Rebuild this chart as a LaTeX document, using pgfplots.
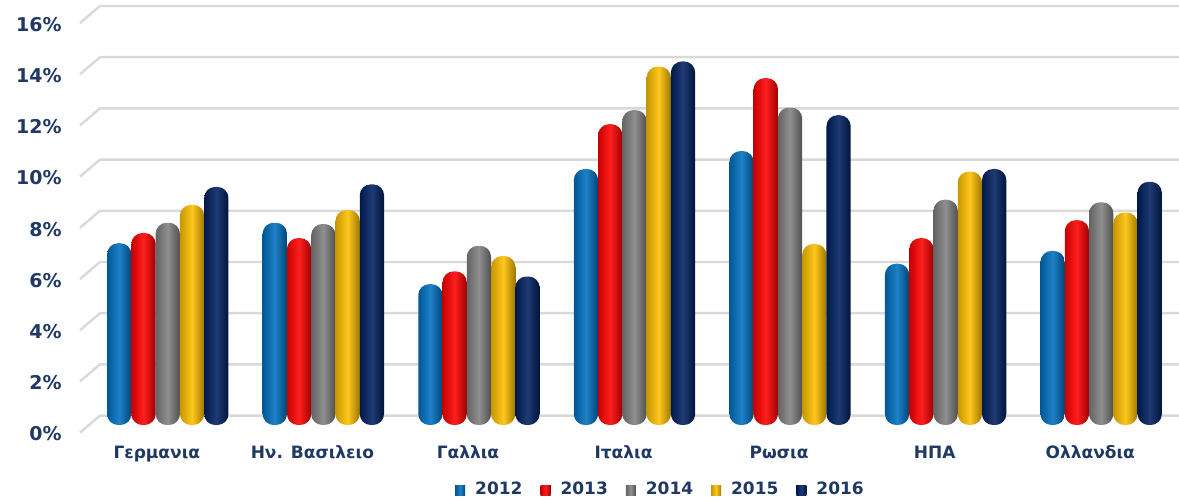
\documentclass[border=0pt]{standalone}
\usepackage{pgfplots}
\pgfplotsset{compat=1.18}
\usepackage{fontspec}
\setmainfont{DejaVu Sans}
\definecolor{txt}{HTML}{1F3864}
\definecolor{c12}{HTML}{0070C0}
\definecolor{c13}{HTML}{FF0000}
\definecolor{c14}{HTML}{808080}
\definecolor{c15}{HTML}{FFC000}
\definecolor{c16}{HTML}{002060}
\definecolor{gridc}{HTML}{D9D9D9}
\pgfplotsset{cyl/.style={draw=none, left color=#1!78!black, right color=#1!62!black, middle color=#1!88!white, rounded corners=5.5pt}}
% one bar: colour, series index (shift), category, value
\newcommand{\cb}[4]{\addplot[cyl=#1, bar shift=#2, forget plot] coordinates {(#3,#4)};}
\begin{document}
\begin{tikzpicture}
\useasboundingbox (0,0) rectangle (589.5pt,251pt);
\begin{axis}[
  at={(45pt,38.5pt)}, anchor=south west,
  width=544.5pt, height=204.8pt, scale only axis,
  xmin=-0.5, xmax=6.5, ymin=0, ymax=16,
  clip=false,
  axis line style={draw=none},
  major tick length=0pt,
  xtick={0,...,6},
  xticklabels={Γερμανια, Ην. Βασιλειο, Γαλλια, Ιταλια, Ρωσια, ΗΠΑ, Ολλανδια},
  xticklabel style={font=\bfseries\fontsize{8.5}{10}\selectfont, text=txt, anchor=base, yshift=-17pt, xshift=-5.5pt},
  ytick={0,2,...,16},
  yticklabel={\pgfmathprintnumber[assume math mode=true]{\tick}\%},
  yticklabel style={font=\bfseries\fontsize{9.5}{11}\selectfont, text=txt, anchor=east, inner sep=0pt, xshift=-14pt, yshift=-4.5pt},
  ybar=0pt, bar width=0.156,
  legend columns=5,
  legend image code/.code={\fill[#1, rounded corners=0pt] (0pt,-2.5pt) rectangle (5pt,2.5pt);},
  legend style={at={(0.335,-0.1587)}, anchor=west, draw=none, fill=none, inner sep=0pt,
    nodes={inner sep=0pt, text=txt, font=\bfseries\fontsize{8.5}{10}\selectfont},
    /tikz/every even column/.append style={column sep=9pt},
    /tikz/every odd column/.append style={column sep=5pt}},
]
\pgfplotsinvokeforeach{0,2,...,16}{
  \draw[gridc, line width=1.2pt] ([shift={(-5pt,-3.8pt)}]axis cs:-0.5,#1) -- ([shift={(5pt,4.7pt)}]axis cs:-0.5,#1) -- ([shift={(0pt,4.7pt)}]axis cs:6.5,#1);
}
% 2012
\cb{c12}{-0.312}{0}{7.1}\cb{c12}{-0.312}{1}{7.9}\cb{c12}{-0.312}{2}{5.5}\cb{c12}{-0.312}{3}{10.0}
\cb{c12}{-0.312}{4}{10.7}\cb{c12}{-0.312}{5}{6.3}\cb{c12}{-0.312}{6}{6.8}
% 2013
\cb{c13}{-0.156}{0}{7.5}\cb{c13}{-0.156}{1}{7.3}\cb{c13}{-0.156}{2}{6.0}\cb{c13}{-0.156}{3}{11.75}
\cb{c13}{-0.156}{4}{13.55}\cb{c13}{-0.156}{5}{7.3}\cb{c13}{-0.156}{6}{8.0}
% 2014
\cb{c14}{0}{0}{7.9}\cb{c14}{0}{1}{7.85}\cb{c14}{0}{2}{7.0}\cb{c14}{0}{3}{12.3}
\cb{c14}{0}{4}{12.4}\cb{c14}{0}{5}{8.8}\cb{c14}{0}{6}{8.7}
% 2015
\cb{c15}{0.156}{0}{8.6}\cb{c15}{0.156}{1}{8.4}\cb{c15}{0.156}{2}{6.6}\cb{c15}{0.156}{3}{14.0}
\cb{c15}{0.156}{4}{7.07}\cb{c15}{0.156}{5}{9.9}\cb{c15}{0.156}{6}{8.3}
% 2016
\cb{c16}{0.312}{0}{9.3}\cb{c16}{0.312}{1}{9.4}\cb{c16}{0.312}{2}{5.8}\cb{c16}{0.312}{3}{14.2}
\cb{c16}{0.312}{4}{12.1}\cb{c16}{0.312}{5}{10.0}\cb{c16}{0.312}{6}{9.5}
\addlegendimage{cyl=c12}\addlegendimage{cyl=c13}\addlegendimage{cyl=c14}\addlegendimage{cyl=c15}\addlegendimage{cyl=c16}
\legend{2012,2013,2014,2015,2016}
\end{axis}
\end{tikzpicture}
\end{document}
